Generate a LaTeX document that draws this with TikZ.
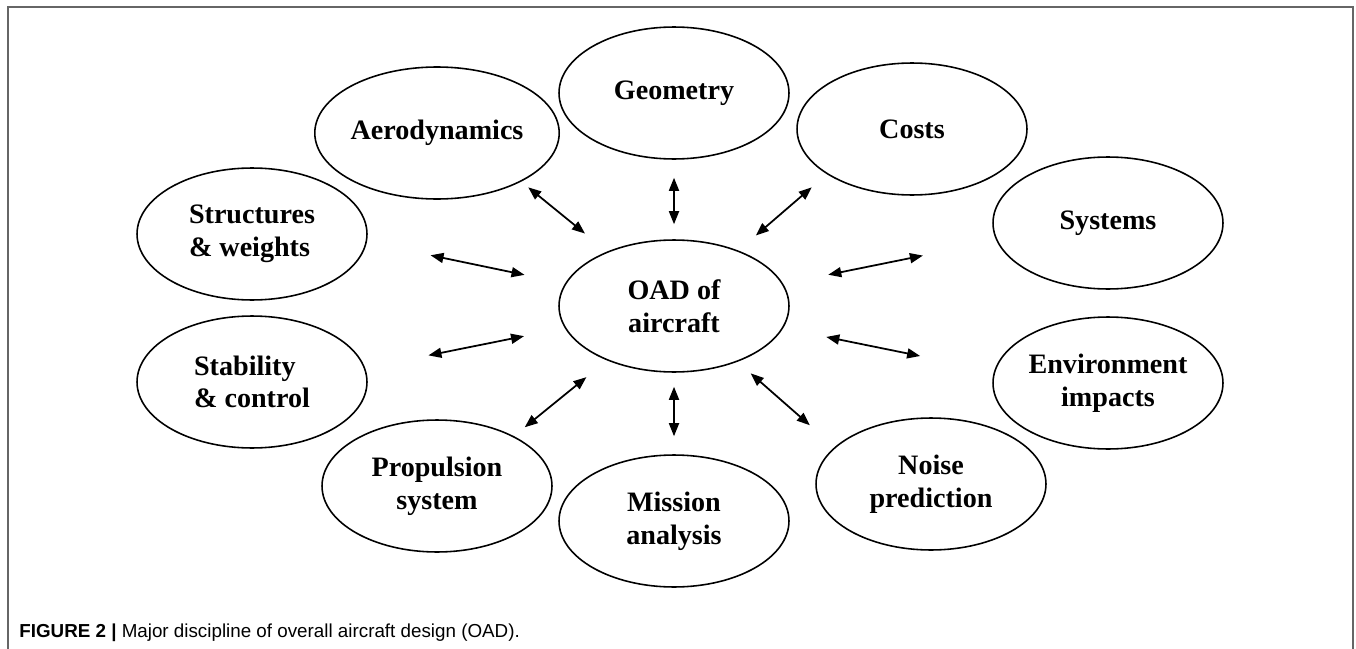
\documentclass[tikz,border=0pt]{standalone}
\usepackage{fontspec}
\setmainfont{Liberation Serif}
\newfontfamily\capfont{Liberation Sans}
\usetikzlibrary{arrows.meta, shapes.geometric}

\begin{document}
\begin{tikzpicture}[x=0.02cm, y=-0.02cm,
  disc/.style={ellipse, draw, line width=0.9pt, inner sep=0pt,
               minimum width=4.6cm, minimum height=2.64cm,
               font=\fontsize{16}{18.6}\selectfont\bfseries, align=center},
  link/.style={arrows={Triangle[length=2.6mm, width=2mm]-Triangle[length=2.6mm, width=2mm]},
               line width=1pt}]
  \useasboundingbox (0,0) rectangle (1356,649);
  \draw[black!60, line width=0.6pt] (8,649) -- (8,7) -- (1353,7) -- (1353,649);

  % disciplines
  \node[disc] (oad) at (674,306) {OAD of\\aircraft};
  \node[disc] (geo) at (674,93) {Geometry};
  \node[disc] (aero) at (437,133) {Aerodynamics};
  \node[disc] (costs) at (912,129) {Costs};
  \node[disc] (systems) at (1108,223) {Systems};
  \node[disc, align=left] (struct) at (252,234) {Structures\\\& weights};
  \node[disc, align=left] (stab) at (252,382) {Stability\\\& control};
  \node[disc] (env) at (1108,383) {Environment\\impacts};
  \node[disc] (prop) at (437,486) {Propulsion\\system};
  \node[disc] (mission) at (674,521) {Mission\\analysis};
  \node[disc] (noise) at (931,484) {Noise\\prediction};

  % links to the centre
  \draw[link, shorten <=5.7mm, shorten >=1.8mm] (oad) -- (aero.-30);
  \draw[link, shorten <=3mm, shorten >=3.6mm] (oad) -- (geo);
  \draw[link, shorten <=4.6mm, shorten >=4mm] (oad) -- (costs.208);
  \draw[link, shorten <=9.2mm, shorten >=15mm] (oad) -- (systems.189);
  \draw[link, shorten <=8.8mm, shorten >=15.1mm] (oad) -- (env.174);
  \draw[link, shorten <=3.5mm, shorten >=6.6mm] (oad) -- (noise.159);
  \draw[link, shorten <=2.8mm, shorten >=3.6mm] (oad) -- (mission);
  \draw[link, shorten <=5.3mm, shorten >=2.8mm] (oad) -- (prop.33);
  \draw[link, shorten <=8.3mm, shorten >=12.9mm] (oad) -- (stab.7);
  \draw[link, shorten <=8.3mm, shorten >=13mm] (oad) -- (struct.-4);

  \node[anchor=base west, inner sep=0pt,
        font=\capfont\fontsize{10.7}{13}\selectfont] (caption) at (19,637)
    {\textbf{FIGURE 2 |} Major discipline of overall aircraft design (OAD).};
\end{tikzpicture}
\end{document}
